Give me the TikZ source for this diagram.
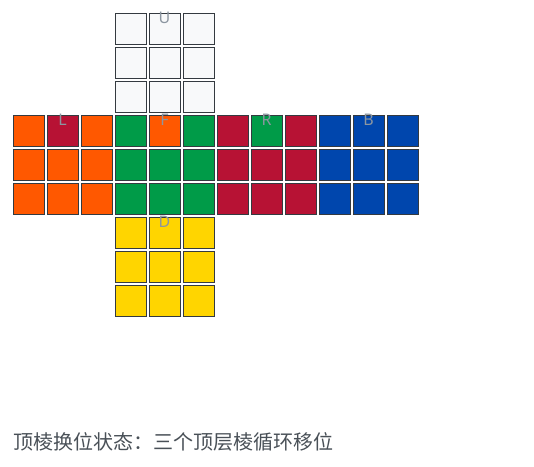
\documentclass[tikz,border=0pt]{standalone}
\usepackage{fontspec}
\setmainfont{Noto Sans}
\newfontfamily\cjk{Noto Sans CJK SC}
\usetikzlibrary{positioning}

\definecolor{cubeW}{HTML}{F8F9FA}
\definecolor{cubeO}{HTML}{FF5800}
\definecolor{cubeR}{HTML}{B71234}
\definecolor{cubeG}{HTML}{009B48}
\definecolor{cubeB}{HTML}{0046AD}
\definecolor{cubeY}{HTML}{FFD500}
\definecolor{cellline}{HTML}{343A40}
\definecolor{labelgray}{HTML}{8C96A0}
\definecolor{captiongray}{HTML}{495057}

\tikzset{
  cell/.style={draw=cellline,line width=1pt},
  facelabel/.style={text=labelgray,font=\fontsize{16}{16}\selectfont,inner sep=0pt},
  caption/.style={text=captiongray,font=\cjk\fontsize{20}{20}\selectfont,inner sep=0pt,anchor=base west}
}

\begin{document}
\begin{tikzpicture}[x=1pt,y=-1pt]
  \useasboundingbox (0,0) rectangle (534,466);
  % face / left / top / top row colours / other rows
  \foreach \face/\fx/\fy/\ca/\cb/\cc/\cd in {
      U/115/13/cubeW/cubeW/cubeW/cubeW,
      L/13/115/cubeO/cubeR/cubeO/cubeO,
      F/115/115/cubeG/cubeO/cubeG/cubeG,
      R/217/115/cubeR/cubeG/cubeR/cubeR,
      B/319/115/cubeB/cubeB/cubeB/cubeB,
      D/115/217/cubeY/cubeY/cubeY/cubeY}{
    \foreach \col [count=\i from 0] in {\ca,\cb,\cc}
      \draw[cell,fill=\col] (\fx+34*\i+0.5,\fy+0.5) rectangle ++(31,31);
    \foreach \i in {0,1,2}
      \foreach \j in {1,2}
        \draw[cell,fill=\cd] (\fx+34*\i+0.5,\fy+34*\j+0.5) rectangle ++(31,31);
    \node[facelabel] (lbl\face) at (\fx+49.5,\fy+5) {\face};
  }
  \node[caption] (caption) at (13,449) {顶棱换位状态：三个顶层棱循环移位};
\end{tikzpicture}
\end{document}
